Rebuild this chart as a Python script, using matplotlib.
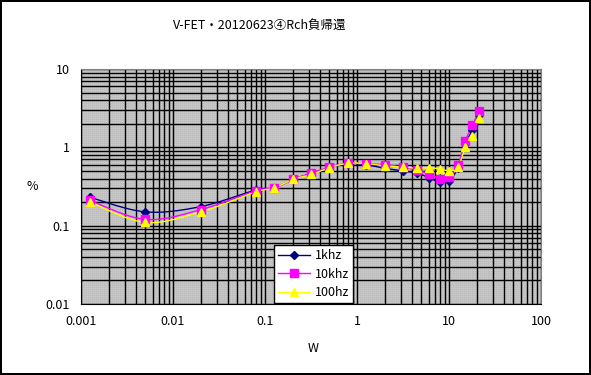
import numpy as np
import matplotlib.pyplot as plt
from matplotlib.lines import Line2D

plt.rcParams['font.family'] = ['Noto Sans CJK JP', 'DejaVu Sans']

# power (W) and distortion (%)
x_1k = [0.00125, 0.005, 0.02, 0.08, 0.125, 0.2, 0.32, 0.5, 0.8, 1.25, 2, 3.15, 4.5, 6, 8, 10, 12.5, 15, 18, 21]
y_1k = [0.23, 0.15, 0.175, 0.285, 0.30, 0.39, 0.46, 0.55, 0.62, 0.60, 0.54, 0.50, 0.47, 0.41, 0.36, 0.37, 0.55, 1.1, 1.66, 2.6]

x_10k = [0.00125, 0.005, 0.02, 0.08, 0.125, 0.2, 0.32, 0.5, 0.8, 1.25, 2, 3.15, 4.5, 6, 8, 10, 12.5, 15, 18, 21]
y_10k = [0.21, 0.12, 0.16, 0.28, 0.30, 0.39, 0.47, 0.56, 0.625, 0.62, 0.60, 0.56, 0.51, 0.46, 0.40, 0.42, 0.59, 1.2, 1.9, 2.9]

x_100 = [0.00125, 0.005, 0.02, 0.08, 0.125, 0.2, 0.32, 0.5, 0.8, 1.25, 2, 3.15, 4.5, 6, 8, 10, 12.5, 15, 18, 21]
y_100 = [0.20, 0.11, 0.15, 0.27, 0.30, 0.39, 0.45, 0.55, 0.625, 0.62, 0.58, 0.56, 0.54, 0.55, 0.53, 0.50, 0.56, 1.0, 1.4, 2.4]

labels = ['1khz', '10khz', '100hz']
colors = ['#000080', '#ff00ff', '#ffff00']
markers = ['D', 's', '^']
msizes = [4, 6, 6]


def smooth(xs, ys, n=12):
    # Catmull-Rom curve in log space, like Excel's smoothed line
    p = np.column_stack([np.log10(xs), np.log10(ys)])
    p = np.vstack([p[0], p, p[-1]])
    out = []
    t = np.linspace(0, 1, n, endpoint=False)[:, None]
    for i in range(1, len(p) - 2):
        p0, p1, p2, p3 = p[i - 1], p[i], p[i + 1], p[i + 2]
        seg = 0.5 * ((2 * p1) + (-p0 + p2) * t + (2 * p0 - 5 * p1 + 4 * p2 - p3) * t ** 2
                     + (-p0 + 3 * p1 - 3 * p2 + p3) * t ** 3)
        out.append(seg)
    out.append(p[-2][None, :])
    out = np.vstack(out)
    return 10 ** out[:, 0], 10 ** out[:, 1]


fig = plt.figure(figsize=(5.91, 3.75), dpi=100, facecolor='white', edgecolor='black', linewidth=1.5)
ax = fig.add_axes([81 / 591, 1 - 304 / 375, 460 / 591, 235 / 375])
ax.set_facecolor('#c2bcc2')

# dithered plot-area fill (gray / pink / green pixels)
h, w = 235, 460
ii, jj = np.mgrid[0:h, 0:w]
tex = np.zeros((h, w, 3))
gray = np.array([192, 192, 192]) / 255
pink = np.array([222, 170, 222]) / 255
green = np.array([176, 222, 176]) / 255
tex[:] = gray
odd = (ii + jj) % 2 == 1
tex[odd & (ii % 2 == 0)] = pink
tex[odd & (ii % 2 == 1)] = green
ax.imshow(tex, extent=[0, 1, 0, 1], transform=ax.transAxes, interpolation='nearest',
          aspect='auto', zorder=0)

ax.set_xscale('log')
ax.set_yscale('log')
ax.set_xlim(0.001, 100)
ax.set_ylim(0.01, 10)

ax.grid(True, which='both', color='black', linewidth=1.0, zorder=1)
ax.set_axisbelow(True)

series = [(x_1k, y_1k), (x_10k, y_10k), (x_100, y_100)]
for (xs, ys), c, m, ms in zip(series, colors, markers, msizes):
    sx, sy = smooth(xs, ys)
    ax.plot(sx, sy, color=c, linewidth=1.0, zorder=3)
    ax.plot(xs, ys, linestyle='none', marker=m, color=c, markersize=ms,
            markeredgecolor=c, zorder=4)

ax.tick_params(which='both', length=0, labelsize=9, pad=8)
ax.set_xticks([0.001, 0.01, 0.1, 1, 10, 100])
ax.set_xticklabels(['0.001', '0.01', '0.1', '1', '10', '100'])
ax.set_yticks([0.01, 0.1, 1, 10])
ax.set_yticklabels(['0.01', '0.1', '1', '10'])

for s in ['left', 'bottom']:
    ax.spines[s].set_color('black')
for s in ['top', 'right']:
    ax.spines[s].set_color('#808080')

handles = [Line2D([], [], color=c, marker=m, markersize=ms, linewidth=1.0)
           for c, m, ms in zip(colors, markers, msizes)]
leg = ax.legend(handles, labels, loc='lower left', bbox_to_anchor=(274 / 591, 1 - 303 / 375, 79 / 591, 62 / 375),
                bbox_transform=fig.transFigure, mode='expand', fontsize=9, frameon=True,
                fancybox=False, framealpha=1, edgecolor='black', handlelength=2.6,
                borderpad=0.3, labelspacing=0.45, handletextpad=0.4, borderaxespad=0)
leg.get_frame().set_linewidth(1)
leg.set_zorder(5)

fig.text(260 / 591, 1 - 25 / 375, 'V-FET・20120623④Rch負帰還', ha='center', va='center', fontsize=9)
fig.text(32 / 591, 1 - 186 / 375, '%', ha='center', va='center', fontsize=9)
fig.text(313 / 591, 1 - 348 / 375, 'W', ha='center', va='center', fontsize=9)

fig.savefig('out.png', dpi=100)
